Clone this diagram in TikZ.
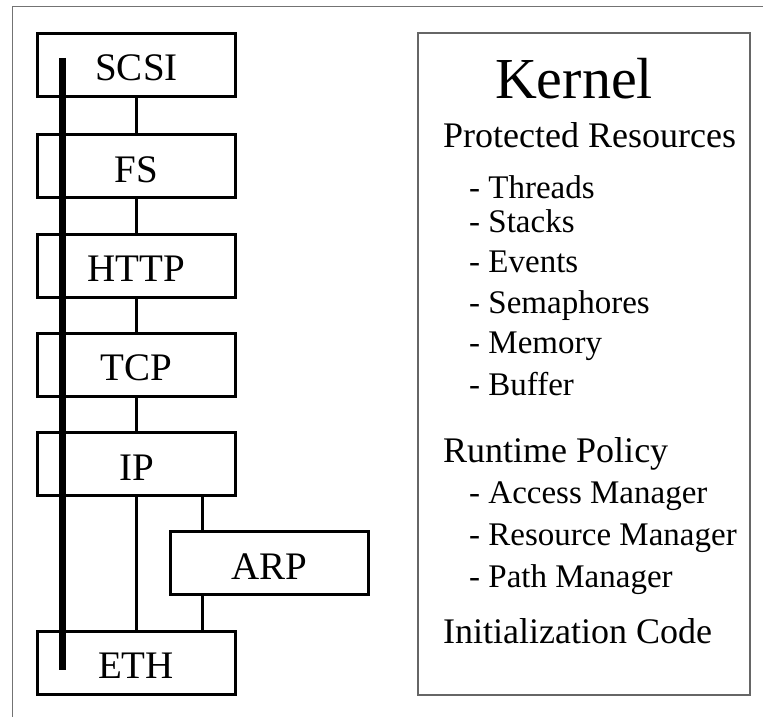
\documentclass[tikz,border=0pt]{standalone}
\usepackage{fontspec}
\setmainfont{Liberation Serif}
\begin{document}
\begin{tikzpicture}[x=1pt, y=-1pt,
  layer/.style={draw, line width=3pt, fill=white, minimum width=198pt, minimum height=63pt,
    inner sep=0pt, text height=34pt, text depth=2pt, font=\fontsize{39}{39}\selectfont},
  link/.style={line width=3pt},
  bus/.style={line width=7pt},
  frame/.style={draw=black!55, line width=1pt},
  panel/.style={draw=black!60, line width=2pt},
  head/.style={anchor=base west, inner sep=0pt, font=\fontsize{36}{36}\selectfont},
  item/.style={anchor=base west, inner sep=0pt, font=\fontsize{33}{33}\selectfont}]
  \newcommand\lx{136.5}
  \newcommand\hx{443}
  \newcommand\ix{469}
  \useasboundingbox (0,0) rectangle (763,717);
  \draw[frame](12,717)--(12,7)--(763,7);

  % protocol stack
  \node[layer] (scsi) at (\lx,65) {SCSI};
  \node[layer] (fs) at (\lx,166) {FS};
  \node[layer] (http) at (\lx,265.5) {HTTP};
  \node[layer] (tcp) at (\lx,364.5) {TCP};
  \node[layer] (ip) at (\lx,464) {IP};
  \node[layer] (arp) at (269,563) {ARP};
  \node[layer] (eth) at (136,662.5) {ETH};

  \draw[link](scsi.south)--(fs.north);
  \draw[link](fs.south)--(http.north);
  \draw[link](http.south)--(tcp.north);
  \draw[link](tcp.south)--(ip.north);
  \draw[link](ip.south)--(ip.south |- eth.north);
  \draw[link]([xshift=34pt]arp.north west)--([xshift=34pt]arp.north west |- ip.south);
  \draw[link]([xshift=34pt]arp.south west)--([xshift=34pt]arp.south west |- eth.north);

  \coordinate (bustop) at (62,58);
  \coordinate (busbot) at (62,670);
  \draw[bus](bustop)--(busbot);

  % kernel side
  \draw[panel](418,33) rectangle (750,695);
  \node[anchor=base, inner sep=0pt, font=\fontsize{58}{58}\selectfont] (kernel) at (574,98) {Kernel};
  \node[head] (prot) at (\hx,147) {Protected Resources};
  \node[item] (threads) at (\ix,198) {- Threads};
  \node[item] (stacks) at (\ix,232) {- Stacks};
  \node[item] (events) at (\ix,272) {- Events};
  \node[item] (sema) at (\ix,313) {- Semaphores};
  \node[item] (mem) at (\ix,353) {- Memory};
  \node[item] (buf) at (\ix,395) {- Buffer};
  \node[head] (policy) at (\hx,462) {Runtime Policy};
  \node[item] (access) at (\ix,503) {- Access Manager};
  \node[item] (resmgr) at (\ix,545) {- Resource Manager};
  \node[item] (pathmgr) at (\ix,587) {- Path Manager};
  \node[head] (init) at (\hx,643) {Initialization Code};
\end{tikzpicture}
\end{document}
